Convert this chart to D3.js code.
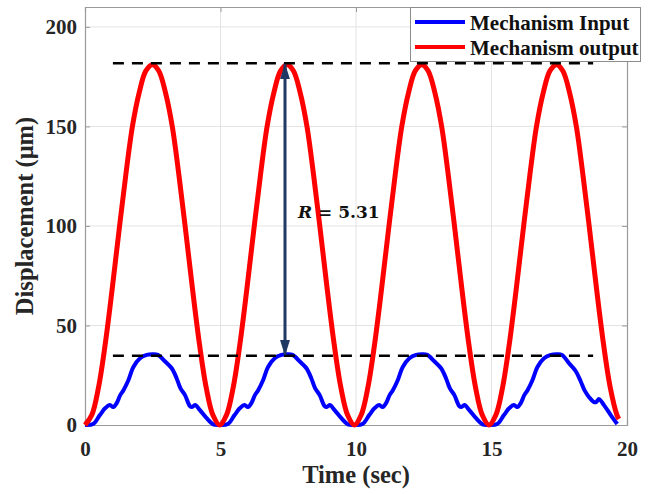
<!DOCTYPE html>
<html>
<head>
<meta charset="utf-8">
<script src="https://cdnjs.cloudflare.com/ajax/libs/d3/7.8.5/d3.min.js"></script>
<style>
  body { margin: 0; background: #fff; }
  svg { display: block; }
</style>
</head>
<body>
<script>
// values (time in sec, displacement in um)
var timeIn = [0, 0.3, 0.55, 0.75, 0.92, 1.04, 1.17, 1.3, 1.42, 1.6, 1.78, 2.03, 2.28, 2.49, 2.69, 2.95, 3.2, 3.38, 3.52, 3.69, 3.87, 3.95, 4.06, 4.24, 4.49, 4.73,
              4.97, 5.27, 5.52, 5.72, 5.89, 6.01, 6.14, 6.27, 6.39, 6.57, 6.75, 7.0, 7.25, 7.46, 7.66, 7.92, 8.17, 8.35, 8.49, 8.66, 8.84, 8.92, 9.03, 9.21, 9.46, 9.7,
              9.94, 10.24, 10.49, 10.69, 10.86, 10.98, 11.11, 11.24, 11.36, 11.54, 11.72, 11.97, 12.22, 12.43, 12.63, 12.89, 13.14, 13.32, 13.46, 13.63, 13.81, 13.89, 14.0, 14.18, 14.43, 14.67,
              14.91, 15.21, 15.46, 15.66, 15.83, 15.95, 16.08, 16.21, 16.33, 16.51, 16.69, 16.94, 17.19, 17.4, 17.6, 17.86, 18.11, 18.29, 18.43, 18.6, 18.78, 18.86, 18.97, 19.15, 19.4, 19.64];
var inputUm = [0, 0.5, 5, 8.5, 10, 9, 11, 15, 17.5, 22.5, 29, 33.5, 35.2, 35.5, 35.2, 32, 28.5, 23.5, 18.5, 15, 9.5, 9, 10, 7.5, 3.4, 0.3,
               0, 0.5, 5, 8.5, 10, 9, 11, 15, 17.5, 22.5, 29, 33.5, 35.2, 35.5, 35.2, 32, 28.5, 23.5, 18.5, 15, 9.5, 9, 10, 7.5, 3.4, 0.3,
               0, 0.5, 5, 8.5, 10, 9, 11, 15, 17.5, 22.5, 29, 33.5, 35.2, 35.5, 35.2, 32, 28.5, 23.5, 18.5, 15, 9.5, 9, 10, 7.5, 3.4, 0.3,
               0, 0.5, 5, 8.5, 10, 9, 11, 15, 17.5, 22.5, 29, 33.5, 35.2, 35.5, 35.2, 31, 27, 22, 17.5, 14, 11.5, 11.5, 13, 10, 5, 0.5];

var timeOut = [0, 0.25, 0.5, 0.75, 1.0, 1.25, 1.5, 1.75, 2.0, 2.25, 2.49, 2.72, 2.97, 3.22, 3.47, 3.72, 3.97, 4.22, 4.47, 4.72,
               4.97, 5.22, 5.47, 5.72, 5.97, 6.22, 6.47, 6.72, 6.97, 7.22, 7.46, 7.69, 7.94, 8.19, 8.44, 8.69, 8.94, 9.19, 9.44, 9.69,
               9.94, 10.19, 10.44, 10.69, 10.94, 11.19, 11.44, 11.69, 11.94, 12.19, 12.43, 12.66, 12.91, 13.16, 13.41, 13.66, 13.91, 14.16, 14.41, 14.66,
               14.91, 15.16, 15.41, 15.66, 15.91, 16.16, 16.41, 16.66, 16.91, 17.16, 17.4, 17.63, 17.88, 18.13, 18.38, 18.63, 18.88, 19.13, 19.38, 19.63, 19.7];
var outputUm = [0, 5, 19, 41, 68, 97, 125, 150, 167, 178, 181, 178, 167, 150, 125, 97, 68, 41, 19, 5,
                0, 5, 19, 41, 68, 97, 125, 150, 167, 178, 181, 178, 167, 150, 125, 97, 68, 41, 19, 5,
                0, 5, 19, 41, 68, 97, 125, 150, 167, 178, 181, 178, 167, 150, 125, 97, 68, 41, 19, 5,
                0, 5, 19, 41, 68, 97, 125, 150, 167, 178, 181, 178, 167, 150, 125, 97, 68, 41, 19, 5, 3];

var xTicks = [0, 5, 10, 15, 20];
var yTicks = [0, 50, 100, 150, 200];
var seriesNames = ["Mechanism Input", "Mechanism output"];
var seriesColors = ["#0000ff", "#ff0000"];

// annotation: peak levels and the ratio arrow
var levelTop = 181.7, levelBottom = 34.8;
var levelFrom = 1.03, levelTo = 18.75;
var arrowTime = 7.38;
var ratioText = "5.31";

var width = 649, height = 494;
var margin = {left: 85, right: 22, top: 7, bottom: 69};
var svg = d3.select("body").append("svg").attr("width", width).attr("height", height);

var x = d3.scaleLinear().domain([0, 20]).range([margin.left, width - margin.right]);
var y = d3.scaleLinear().domain([0, 210]).range([height - margin.bottom, margin.top]);

var serif = "'Liberation Serif', 'Times New Roman', serif";
var axisGray = "#9a9a9a";

// grid
var grid = svg.append("g");
grid.selectAll("line.gx").data(xTicks.slice(1, -1)).enter().append("line")
    .attr("x1", function(d){ return x(d); }).attr("x2", function(d){ return x(d); })
    .attr("y1", y(0)).attr("y2", y(210))
    .attr("stroke", "#e3e3e3").attr("stroke-width", 1);
grid.selectAll("line.gy").data(yTicks.slice(1)).enter().append("line")
    .attr("y1", function(d){ return y(d); }).attr("y2", function(d){ return y(d); })
    .attr("x1", x(0)).attr("x2", x(20))
    .attr("stroke", "#e3e3e3").attr("stroke-width", 1);

// axes
var gx = svg.append("g").attr("transform", "translate(0," + y(0) + ")")
    .call(d3.axisBottom(x).tickValues(xTicks).tickSize(-5).tickPadding(16).tickFormat(d3.format("d")));
var gy = svg.append("g").attr("transform", "translate(" + x(0) + ",0)")
    .call(d3.axisLeft(y).tickValues(yTicks).tickSize(-5).tickPadding(8).tickFormat(d3.format("d")));
var gx2 = svg.append("g").attr("transform", "translate(0," + y(210) + ")")
    .call(d3.axisTop(x).tickValues(xTicks).tickSize(-5).tickFormat(""));
var gy2 = svg.append("g").attr("transform", "translate(" + x(20) + ",0)")
    .call(d3.axisRight(y).tickValues(yTicks).tickSize(-5).tickFormat(""));

[gx, gy, gx2, gy2].forEach(function(g){
    g.select(".domain").attr("stroke", axisGray).attr("stroke-width", 1.2);
    g.selectAll(".tick line").attr("stroke", axisGray);
    g.selectAll("text")
        .attr("font-family", serif).attr("font-weight", "bold")
        .attr("font-size", 21).attr("fill", "#262626");
});

// axis titles
svg.append("text")
    .attr("x", (x(0) + x(20)) / 2).attr("y", 483)
    .attr("text-anchor", "middle")
    .attr("font-family", serif).attr("font-weight", "bold").attr("font-size", 24.5).attr("fill", "#262626")
    .text("Time (sec)");
svg.append("text")
    .attr("transform", "translate(33," + ((y(0) + y(210)) / 2) + ") rotate(-90)")
    .attr("text-anchor", "middle")
    .attr("font-family", serif).attr("font-weight", "bold").attr("font-size", 24.5).attr("fill", "#262626")
    .text("Displacement (μm)");

// curves
var line = d3.line()
    .curve(d3.curveCatmullRom.alpha(0.5))
    .x(function(d){ return x(d[0]); })
    .y(function(d){ return y(d[1]); });

var inputData = timeIn.map(function(t, i){ return [t, inputUm[i]]; });
var outputData = timeOut.map(function(t, i){ return [t, outputUm[i]]; });

svg.append("path").attr("d", line(inputData))
    .attr("fill", "none").attr("stroke", seriesColors[0]).attr("stroke-width", 4)
    .attr("stroke-linejoin", "round");
svg.append("path").attr("d", line(outputData))
    .attr("fill", "none").attr("stroke", seriesColors[1]).attr("stroke-width", 5)
    .attr("stroke-linejoin", "round");

// dashed level lines
[levelTop, levelBottom].forEach(function(v){
    svg.append("line")
        .attr("x1", x(levelFrom)).attr("x2", x(levelTo))
        .attr("y1", y(v)).attr("y2", y(v))
        .attr("stroke", "#000").attr("stroke-width", 2.5)
        .attr("stroke-dasharray", "11,8");
});

// double arrow
var navy = "#1f3864";
var defs = svg.append("defs");
defs.append("marker").attr("id", "head")
    .attr("viewBox", "0 0 16 10").attr("refX", 15).attr("refY", 5)
    .attr("markerUnits", "userSpaceOnUse")
    .attr("markerWidth", 16).attr("markerHeight", 10)
    .attr("orient", "auto-start-reverse")
    .append("path").attr("d", "M0,0L16,5L0,10Z").attr("fill", navy);

svg.append("line")
    .attr("x1", x(arrowTime)).attr("x2", x(arrowTime))
    .attr("y1", y(levelTop) + 1).attr("y2", y(levelBottom) - 1)
    .attr("stroke", navy).attr("stroke-width", 3)
    .attr("marker-start", "url(#head)").attr("marker-end", "url(#head)");

var rt = svg.append("text")
    .attr("x", 298).attr("y", 218)
    .attr("font-family", "'DejaVu Serif', serif").attr("font-weight", "bold")
    .attr("font-size", 17).attr("fill", "#111");
rt.append("tspan").attr("font-style", "italic").text("R");
rt.append("tspan").text(" = " + ratioText);

// legend
var legend = svg.append("g");
legend.append("rect")
    .attr("x", 410.5).attr("y", 7.5).attr("width", 230).attr("height", 54)
    .attr("fill", "#fff").attr("stroke", "#8c8c8c").attr("stroke-width", 1);
seriesNames.forEach(function(name, i){
    var ly = 22 + i * 25;
    legend.append("line")
        .attr("x1", 415).attr("x2", 465).attr("y1", ly).attr("y2", ly)
        .attr("stroke", seriesColors[i]).attr("stroke-width", 4);
    legend.append("text")
        .attr("x", 470).attr("y", ly + 8)
        .attr("font-family", serif).attr("font-weight", "bold")
        .attr("font-size", 21).attr("fill", "#111")
        .text(name);
});
</script>
</body>
</html>
